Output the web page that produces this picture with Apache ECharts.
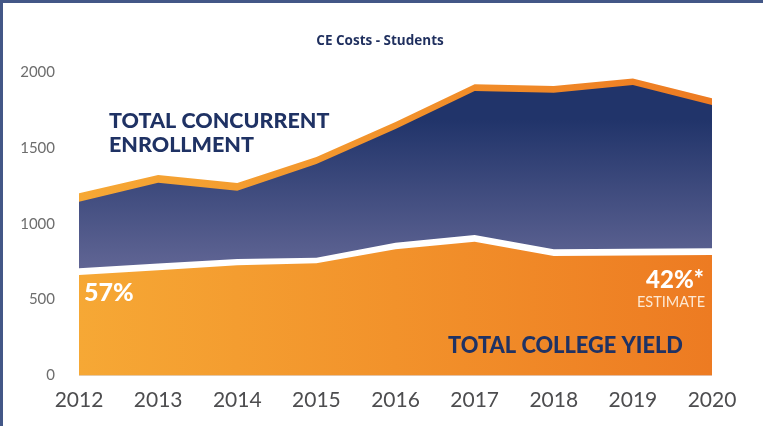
<!DOCTYPE html>
<html>
<head>
<meta charset="utf-8">
<title>CE Costs - Students</title>
<script src="https://cdn.jsdelivr.net/npm/echarts@6/dist/echarts.min.js"></script>
<style>
  html, body { margin: 0; padding: 0; background: #fff; }
  #wrap { position: relative; width: 763px; height: 426px; overflow: hidden; }
  #main { width: 763px; height: 426px; }
  .edge { position: absolute; background: #435787; }
</style>
</head>
<body>
<div id="wrap">
  <div id="main"></div>
  <div class="edge" style="left:0;top:0;width:763px;height:3px"></div>
  <div class="edge" style="left:0;top:0;width:3px;height:426px"></div>
</div>
<script>
// categories
const years = ['2012', '2013', '2014', '2015', '2016', '2017', '2018', '2019', '2020']

// top of the orange rim above the enrollment area
const rimTop = [1201, 1321, 1269, 1440, 1671, 1919, 1908, 1957, 1827]
// total concurrent enrollment (top of navy area)
const enrollment = [1145, 1271, 1218, 1394, 1624, 1875, 1864, 1914, 1783]
// top of the white separator above the college yield
const separatorTop = [706, 738, 768, 776, 875, 926, 832, 835, 838]
// total college yield (orange area)
const collegeYield = [662, 694, 726, 739, 832, 882, 787, 790, 794]

const navyText = '#1f3264'

const orangeFill = {
  type: 'linear', x: 78, y: 0, x2: 712, y2: 0, global: true,
  colorStops: [
    { offset: 0, color: '#f6a835' },
    { offset: 0.5, color: '#f2922b' },
    { offset: 1, color: '#ed7b22' },
  ],
}

const navyFill = {
  type: 'linear', x: 0, y: 120, x2: 0, y2: 268, global: true,
  colorStops: [
    { offset: 0, color: '#21346a' },
    { offset: 1, color: '#606594' },
  ],
}

const areaSeries = (name, data, color, z) => ({
  name,
  type: 'line',
  data,
  z,
  symbol: 'none',
  smooth: false,
  silent: true,
  lineStyle: { width: 0 },
  areaStyle: { color, opacity: 1 },
})

const chart = echarts.init(document.getElementById('main'))

chart.setOption({
  animation: false,
  backgroundColor: '#fff',
  title: {
    text: 'CE Costs - Students',
    left: 375,
    top: 29,
    textAlign: 'center',
    textStyle: {
      fontFamily: 'Open Sans',
      fontWeight: 'bold',
      fontSize: 13.5,
      color: '#1f2f5e',
    },
  },
  grid: { left: 79, right: 51, top: 72, bottom: 50.5 },
  xAxis: {
    type: 'category',
    data: years,
    boundaryGap: false,
    axisLine: { show: false },
    axisTick: { show: false },
    splitLine: { show: false },
    axisLabel: {
      margin: 14,
      fontFamily: 'Lato',
      fontSize: 21,
      color: '#4d4d4f',
    },
  },
  yAxis: {
    type: 'value',
    min: 0,
    max: 2000,
    interval: 500,
    axisLine: { show: false },
    axisTick: { show: false },
    splitLine: { show: false },
    axisLabel: {
      margin: 24,
      fontFamily: 'Lato',
      fontSize: 15,
      color: '#6d6d6d',
      formatter: (v) => String(v),
    },
  },
  series: [
    areaSeries('rim', rimTop, orangeFill, 1),
    areaSeries('Total Concurrent Enrollment', enrollment, navyFill, 2),
    areaSeries('separator', separatorTop, '#ffffff', 3),
    areaSeries('Total College Yield', collegeYield, orangeFill, 4),
  ],
  graphic: [
    {
      type: 'text', x: 109, y: 121, z: 10,
      style: { text: 'TOTAL CONCURRENT', fill: navyText, font: '900 21.5px Lato', textVerticalAlign: 'middle' },
    },
    {
      type: 'text', x: 109, y: 145, z: 10,
      style: { text: 'ENROLLMENT', fill: navyText, font: '900 21.5px Lato', textVerticalAlign: 'middle' },
    },
    {
      type: 'text', x: 84, y: 293, z: 10,
      style: { text: '57%', fill: '#ffffff', font: '900 25px Lato', textVerticalAlign: 'middle' },
    },
    {
      type: 'text', x: 704, y: 280, z: 10,
      style: { text: '42%*', fill: '#ffffff', font: '900 24px Lato', textAlign: 'right', textVerticalAlign: 'middle' },
    },
    {
      type: 'text', x: 705, y: 302, z: 10,
      style: { text: 'ESTIMATE', fill: '#fde8d2', font: '14.5px Lato', textAlign: 'right', textVerticalAlign: 'middle' },
    },
    {
      type: 'text', x: 448, y: 346, z: 10,
      style: { text: 'TOTAL COLLEGE YIELD', fill: navyText, font: '900 21.8px Lato', textVerticalAlign: 'middle' },
    },
  ],
})
</script>
</body>
</html>
